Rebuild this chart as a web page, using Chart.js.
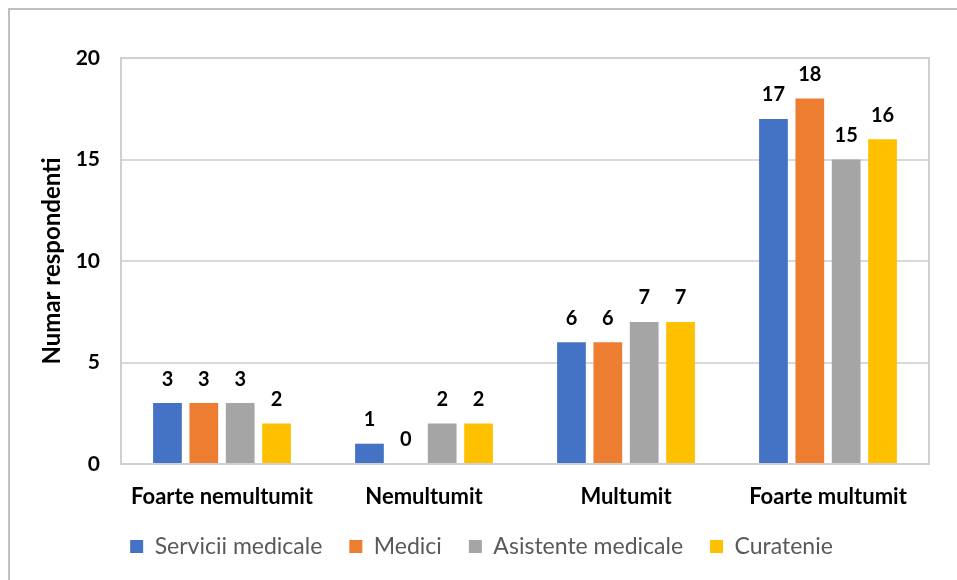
<!DOCTYPE html>
<html>
<head>
<meta charset="utf-8">
<script src="https://cdn.jsdelivr.net/npm/chart.js@4/dist/chart.umd.min.js"></script>
<style>
  body { margin: 0; background: #fff; }
  .wrap { width: 957px; height: 580px; }
</style>
</head>
<body>
<div class="wrap"><canvas id="chart" width="957" height="580"></canvas></div>
<script>
let categories = ['Foarte nemultumit', 'Nemultumit', 'Multumit', 'Foarte multumit']
let serviciiMedicale = [3, 1, 6, 17]
let medici = [3, 0, 6, 18]
let asistenteMedicale = [3, 2, 7, 15]
let curatenie = [2, 2, 7, 16]
let seriesNames = ['Servicii medicale', 'Medici', 'Asistente medicale', 'Curatenie']
let yTicks = [0, 5, 10, 15, 20]

let font = 'Lato, "Liberation Sans", sans-serif'

// outer frame + plot border
let framePlugin = {
    id: 'frame',
    beforeDraw(chart) {
        let ctx = chart.ctx
        ctx.save()
        ctx.fillStyle = '#fff'
        ctx.fillRect(0, 0, chart.width, chart.height)
        ctx.strokeStyle = '#bfbfbf'
        ctx.lineWidth = 2
        ctx.strokeRect(9, 9, chart.width + 10, chart.height + 10)
        ctx.restore()
    },
    afterDatasetsDraw(chart) {
        let ctx = chart.ctx
        let a = chart.chartArea
        ctx.save()
        ctx.strokeStyle = '#d0d0d0'
        ctx.lineWidth = 2
        ctx.strokeRect(a.left, a.top, a.right - a.left, a.bottom - a.top)

        // value labels above bars
        ctx.fillStyle = '#000'
        ctx.font = 'bold 20px ' + font
        ctx.textAlign = 'center'
        ctx.textBaseline = 'middle'
        chart.data.datasets.forEach((ds, i) => {
            chart.getDatasetMeta(i).data.forEach((bar, j) => {
                ctx.fillText(ds.data[j], bar.x, bar.y - 24)
            })
        })
        ctx.restore()
    }
}

let colors = ['#4472C4', '#ED7D31', '#A5A5A5', '#FFC000']
let values = [serviciiMedicale, medici, asistenteMedicale, curatenie]

new Chart(document.querySelector('#chart').getContext('2d'), {
    type: 'bar',
    data: {
        labels: categories,
        datasets: values.map((v, i) => ({
            label: seriesNames[i],
            data: v,
            backgroundColor: colors[i],
            borderWidth: 0,
            barPercentage: 0.79,
            categoryPercentage: 0.72
        }))
    },
    options: {
        responsive: false,
        animation: false,
        layout: { padding: { left: 34, top: 58, right: 28, bottom: 12 } },
        plugins: {
            tooltip: { enabled: false },
            legend: {
                position: 'bottom',
                labels: {
                    boxWidth: 13,
                    boxHeight: 13,
                    padding: 27,
                    color: '#595959',
                    font: { family: font, size: 23 }
                }
            }
        },
        scales: {
            x: {
                grid: { display: false, drawTicks: false },
                border: { display: false },
                ticks: { color: '#000', padding: 20, font: { family: font, size: 22, weight: 'bold' } },
                afterFit(scale) { scale.height = 44 }
            },
            y: {
                min: 0,
                max: 20,
                afterBuildTicks(scale) { scale.ticks = yTicks.map(v => ({ value: v })) },
                grid: { color: '#d9d9d9', lineWidth: 2, drawTicks: false },
                border: { display: false },
                ticks: { color: '#000', padding: 21, font: { family: font, size: 21, weight: 'bold' } },
                title: {
                    display: true,
                    text: 'Numar respondenti',
                    color: '#000',
                    font: { family: font, size: 24, weight: 'bold' }
                },
                afterFit(scale) { scale.width = 87 }
            }
        }
    },
    plugins: [framePlugin]
})
</script>
</body>
</html>
